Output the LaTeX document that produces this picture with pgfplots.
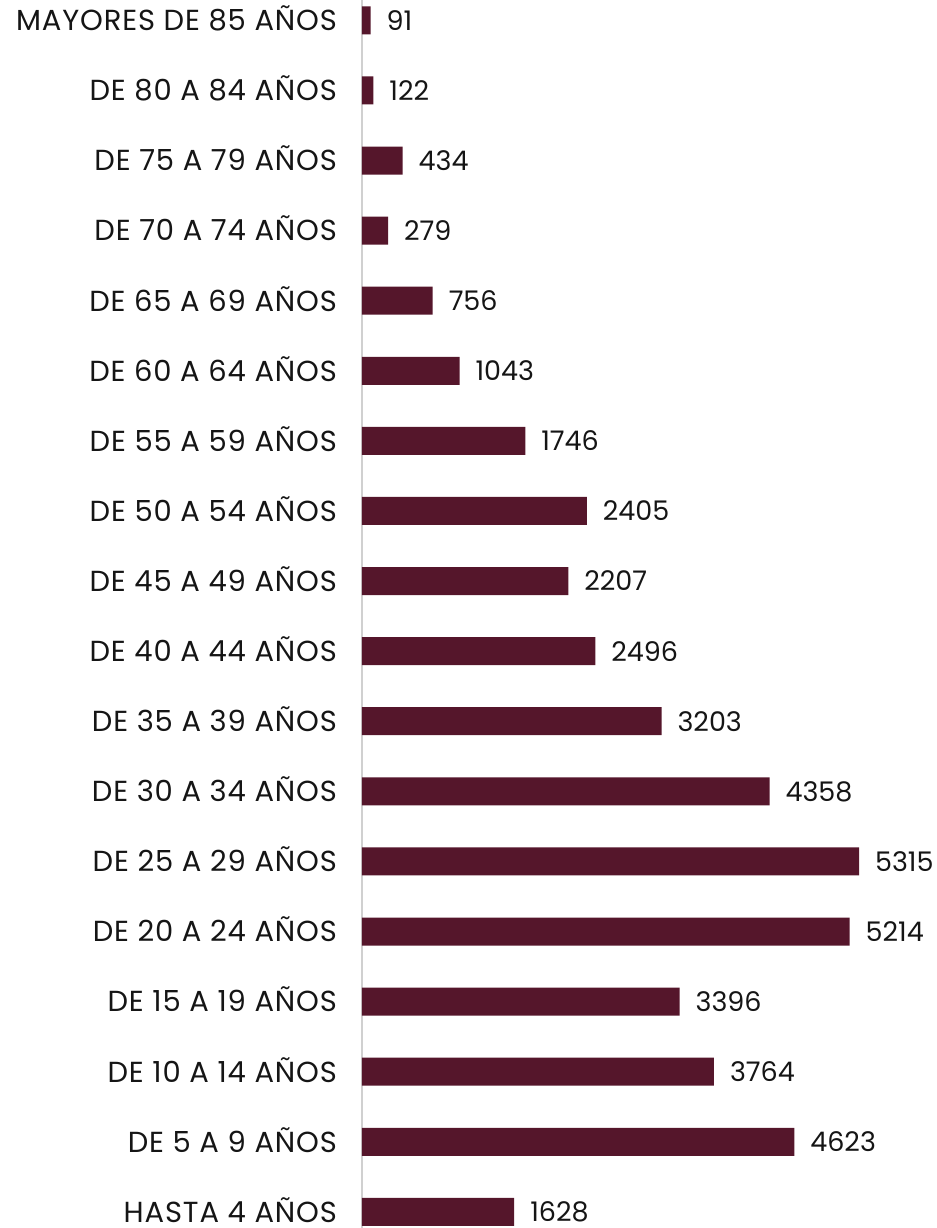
\documentclass[border=0pt]{standalone}
\usepackage{pgfplots}
\pgfplotsset{compat=1.18}
\usepackage{fontspec}
\setmainfont{Poppins}
\newfontfamily\labfont[LetterSpace=3]{Poppins}
\definecolor{barcol}{HTML}{55162B}
\definecolor{txt}{HTML}{151515}
\definecolor{axgray}{HTML}{D0D0D0}
\begin{document}
\begin{tikzpicture}
\begin{axis}[
    name=ax,
    xbar,
    scale only axis,
    width=287.5pt, height=614pt,
    xmin=0, xmax=6149,
    ymin=-0.23, ymax=17.29,
    bar width=14pt,
    axis x line=none,
    axis y line*=left,
    y axis line style={axgray, line width=0.8pt, -},
    ytick={0,...,17},
    yticklabels={HASTA 4 AÑOS, DE 5 A 9 AÑOS, DE 10 A 14 AÑOS, DE 15 A 19 AÑOS,
        DE 20 A 24 AÑOS, DE 25 A 29 AÑOS, DE 30 A 34 AÑOS, DE 35 A 39 AÑOS,
        DE 40 A 44 AÑOS, DE 45 A 49 AÑOS, DE 50 A 54 AÑOS, DE 55 A 59 AÑOS,
        DE 60 A 64 AÑOS, DE 65 A 69 AÑOS, DE 70 A 74 AÑOS, DE 75 A 79 AÑOS,
        DE 80 A 84 AÑOS, MAYORES DE 85 AÑOS},
    major tick length=0pt,
    yticklabel style={font=\labfont\fontsize{14.5}{16}\selectfont, text=txt, xshift=-9pt, yshift=1pt},
    nodes near coords,
    every node near coord/.append style={font=\fontsize{13.5}{15}\selectfont, text=txt, xshift=4.5pt},
    /pgf/number format/assume math mode=true,
    /pgf/number format/1000 sep={},
    clip=false,
]
\addplot[fill=barcol, draw=none] coordinates {
    (1628,0) (4623,1) (3764,2) (3396,3) (5214,4) (5315,5) (4358,6) (3203,7)
    (2496,8) (2207,9) (2405,10) (1746,11) (1043,12) (756,13) (279,14) (434,15)
    (122,16) (91,17)};
\end{axis}
\pgfresetboundingbox
\path (ax.south west) ++(-181pt,0) rectangle (ax.north east);
\end{tikzpicture}
\end{document}
